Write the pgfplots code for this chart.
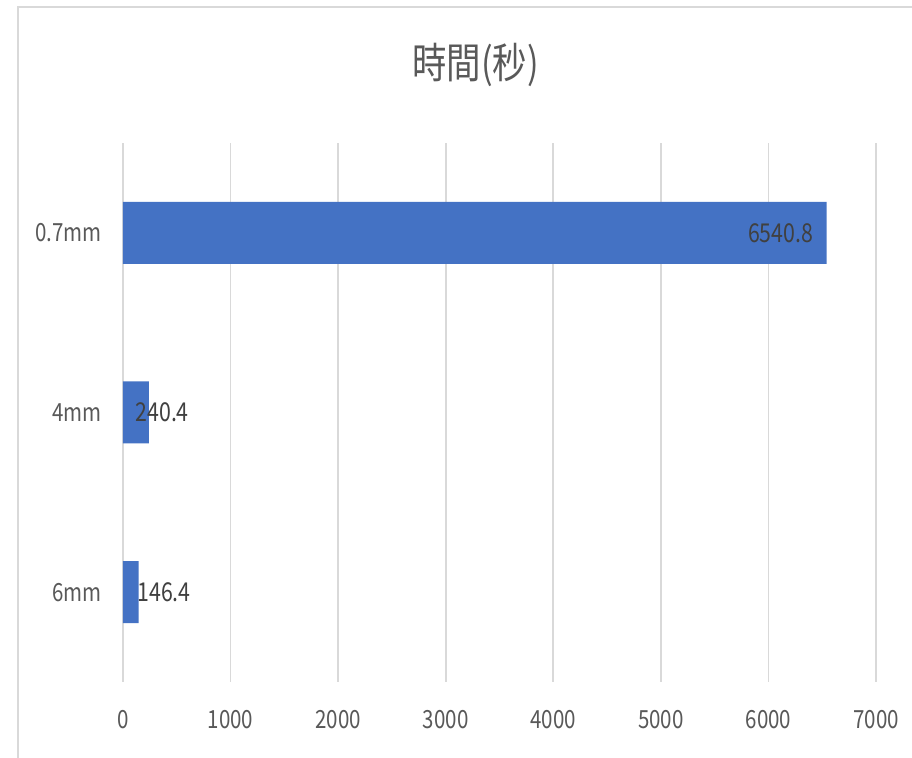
\documentclass[border=0pt]{standalone}
\usepackage{pgfplots}
\pgfplotsset{compat=1.18}
\usepackage{fontspec}
\setmainfont{Noto Sans CJK TC}[FakeStretch=0.82]
\definecolor{barblue}{HTML}{4472C4}
\definecolor{txtgray}{HTML}{595959}
\definecolor{lblgray}{HTML}{404040}
\definecolor{gridgray}{HTML}{D9D9D9}
\begin{document}
\begin{tikzpicture}
\useasboundingbox (0,0) rectangle (456pt,379pt);
\fill[white] (0,0) rectangle (456pt,379pt);
\draw[gridgray, line width=1pt] (9pt,0) -- (9pt,375.5pt) -- (456pt,375.5pt);
\begin{axis}[
  at={(61.5pt,38pt)}, anchor=south west,
  scale only axis, width=376.5pt, height=269.5pt,
  xmin=0, xmax=7000, ymin=-0.5, ymax=2.5,
  xtick={0,1000,...,7000}, ytick={0,1,2},
  yticklabels={6mm,4mm,0.7mm},
  scaled ticks=false,
  /pgf/number format/assume math mode=true,
  /pgf/number format/set thousands separator={},
  axis x line*=bottom, axis y line*=left,
  axis line style={draw=none},
  major tick length=0pt,
  xmajorgrids, ymajorgrids=false,
  grid style={gridgray, line width=0.8pt},
  ticklabel style={font=\fontsize{12.5}{14}\selectfont, text=txtgray},
  xticklabel style={yshift=-10.5pt},
  yticklabel style={xshift=-7pt},
  title={時間(秒)},
  title style={font=\fontsize{21}{24}\selectfont, text=txtgray, at={(0.5,1)}, anchor=center, yshift=33pt, xshift=-12pt},
  clip=false,
]
\addplot[xbar, bar width=31pt, fill=barblue, draw=none] coordinates {(146.4,0) (240.4,1) (6540.8,2)};
\addplot[only marks, mark=none, point meta=explicit symbolic, nodes near coords,
  nodes near coords style={anchor=west, inner sep=0pt, font=\fontsize{13}{15}\selectfont, text=lblgray}]
  coordinates {(130,0)[146.4] (113,1)[240.4]};
\addplot[only marks, mark=none, point meta=explicit symbolic, nodes near coords,
  nodes near coords style={anchor=east, inner sep=0pt, font=\fontsize{13}{15}\selectfont, text=lblgray}]
  coordinates {(6420,2)[6540.8]};
\end{axis}
\end{tikzpicture}
\end{document}
